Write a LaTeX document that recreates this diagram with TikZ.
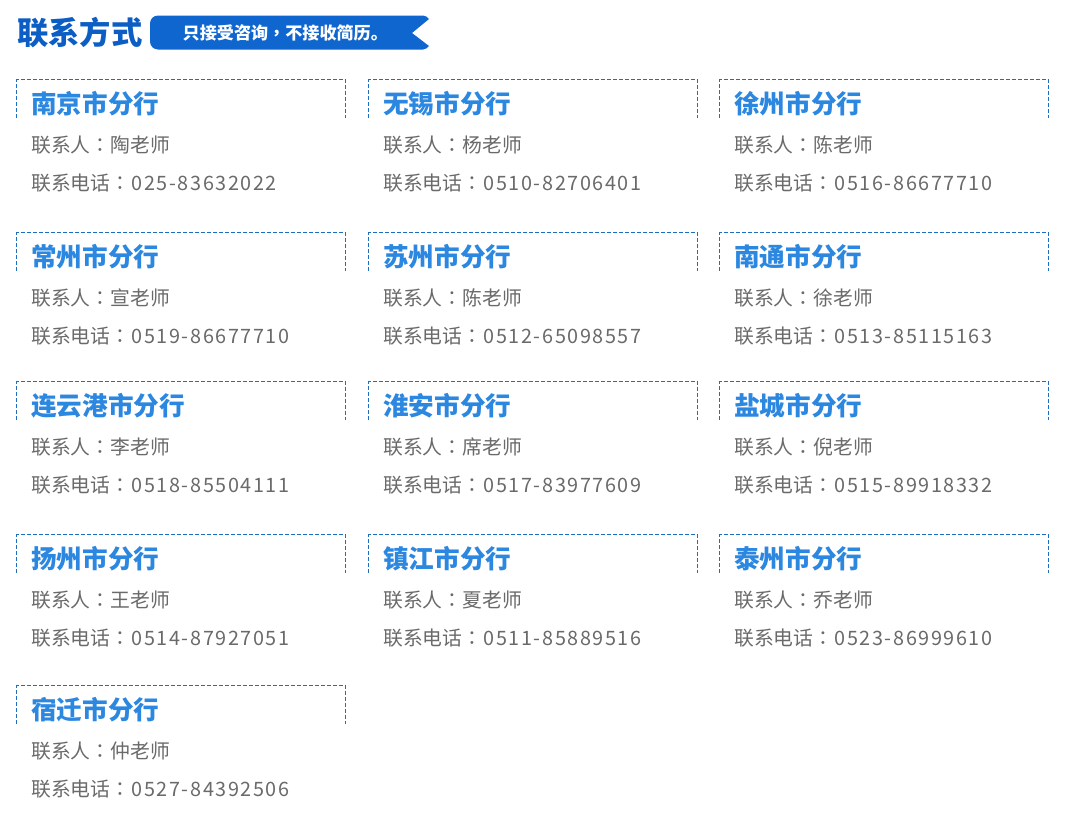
\documentclass[tikz,border=0pt]{standalone}
\usepackage{fontspec}
\setmainfont{Noto Sans CJK SC}
\newfontfamily\tcfont{Noto Sans CJK TC}
\definecolor{headblue}{HTML}{0C5EC4}
\definecolor{bannerblue}{HTML}{0F66CF}
\definecolor{cityblue}{HTML}{2B87DF}
\definecolor{dashblue}{HTML}{1E6EBF}
\definecolor{infogray}{HTML}{6A6A6A}
\newcommand\colonmark{{\tcfont ：}}
\newcommand\branchcard[6]{%
  \draw[cardline] (#2,#3+38) -- (#2,#3) -- (#2+329,#3) -- (#2+329,#3+38);
  \node[cityname] (#1-city) at (#2+14.5,#3+24.5) {#4};
  \node[infoline] (#1-person) at (#2+14.5,#3+65.5) {联系人\colonmark #5};
  \node[infoline] (#1-phone) at (#2+14.5,#3+103.5) {联系电话\colonmark\hspace{1.5pt}{\addfontfeature{LetterSpace=8}#6}};
}
\begin{document}
\begin{tikzpicture}[x=1pt,y=-1pt,
  cardline/.style={draw=dashblue,line width=1pt,dash pattern=on 4pt off 2pt},
  cityname/.style={anchor=west,inner sep=0pt,text=cityblue,font=\bfseries\fontsize{25.6}{26}\selectfont},
  infoline/.style={anchor=west,inner sep=0pt,text=infogray,font=\fontsize{19.8}{20}\selectfont},
  headtitle/.style={anchor=west,inner sep=0pt,text=headblue,font=\bfseries\fontsize{31.3}{32}\selectfont},
  bannertext/.style={anchor=west,inner sep=0pt,text=white,font=\bfseries\fontsize{17.1}{18}\selectfont}]
\useasboundingbox[fill=white] (0,0) rectangle (1066,814);
\node[headtitle] (head) at (17,33) {联系方式};
\fill[bannerblue] (158,15.5) -- (423,15.5) to[out=0,in=135] (429,19) -- (412,33) -- (429,46) to[out=225,in=0] (423,49.5) -- (158,49.5) arc[start angle=90,end angle=180,radius=8] -- (150,23.5) arc[start angle=180,end angle=270,radius=8] -- cycle;
\node[bannertext] (banner) at (182.5,33) {只接受咨询{\tcfont ，}不接收简历。};
\branchcard{nj}{16.5}{79.5}{南京市分行}{陶老师}{025-83632022}
\branchcard{wx}{368.5}{79.5}{无锡市分行}{杨老师}{0510-82706401}
\branchcard{xz}{719.5}{79.5}{徐州市分行}{陈老师}{0516-86677710}
\branchcard{cz}{16.5}{232.5}{常州市分行}{宣老师}{0519-86677710}
\branchcard{sz}{368.5}{232.5}{苏州市分行}{陈老师}{0512-65098557}
\branchcard{nt}{719.5}{232.5}{南通市分行}{徐老师}{0513-85115163}
\branchcard{lyg}{16.5}{381.5}{连云港市分行}{李老师}{0518-85504111}
\branchcard{ha}{368.5}{381.5}{淮安市分行}{席老师}{0517-83977609}
\branchcard{yc}{719.5}{381.5}{盐城市分行}{倪老师}{0515-89918332}
\branchcard{yz}{16.5}{534.5}{扬州市分行}{王老师}{0514-87927051}
\branchcard{zj}{368.5}{534.5}{镇江市分行}{夏老师}{0511-85889516}
\branchcard{tz}{719.5}{534.5}{泰州市分行}{乔老师}{0523-86999610}
\branchcard{sq}{16.5}{685.5}{宿迁市分行}{仲老师}{0527-84392506}
\end{tikzpicture}
\end{document}
